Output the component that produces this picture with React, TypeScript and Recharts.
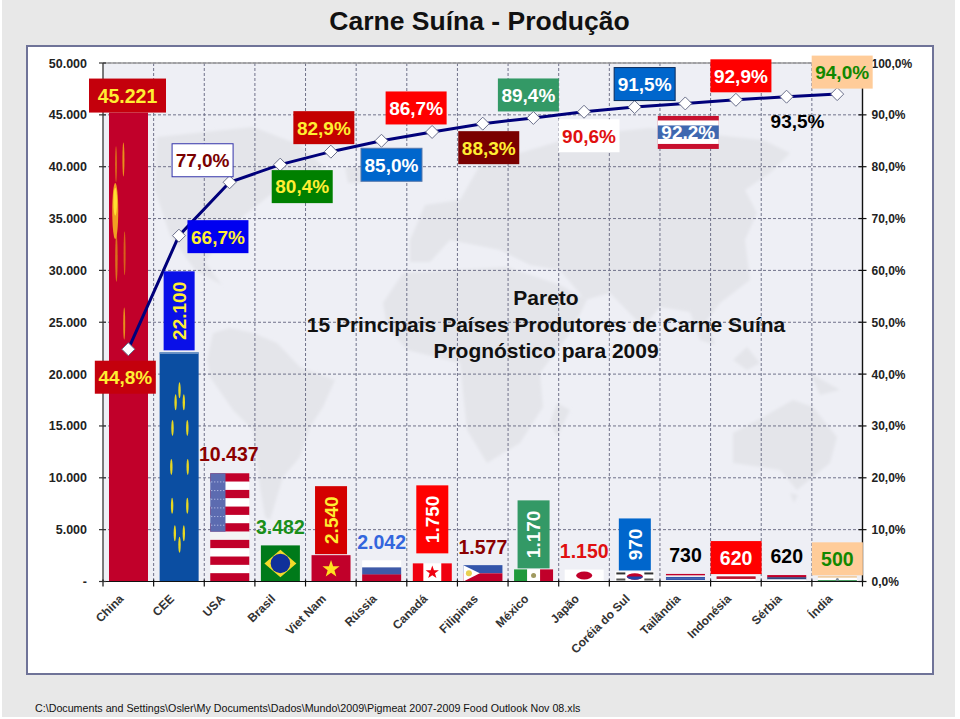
import { Bar, CartesianGrid, ComposedChart, LabelList, Line, ReferenceLine, XAxis, YAxis } from 'recharts'

const countries = ['China', 'CEE', 'USA', 'Brasil', 'Viet Nam', 'Rússia', 'Canadá', 'Filipinas', 'México', 'Japão', 'Coréia do Sul', 'Tailândia', 'Indonésia', 'Sérbia', 'Índia']
const production = [45221, 22100, 10437, 3482, 2540, 2042, 1750, 1577, 1170, 1150, 970, 730, 620, 620, 500]
const cumulative = [44.8, 66.7, 77.0, 80.4, 82.9, 85.0, 86.7, 88.3, 89.4, 90.6, 91.5, 92.2, 92.9, 93.5, 94.0]
const leftTicks = [0, 5000, 10000, 15000, 20000, 25000, 30000, 35000, 40000, 45000, 50000]
const rightTicks = [0, 10, 20, 30, 40, 50, 60, 70, 80, 90, 100]

const FONT = '"Liberation Sans", Arial, sans-serif'
const PLOT = { left: 103, top: 63, right: 862.5, bottom: 581.5 }
const BAND = (PLOT.right - PLOT.left) / countries.length

const chartData = countries.map((name, i) => ({ name, production: production[i], cumulative: cumulative[i] }))

const fmtThousands = (v: number) => (v === 0 ? '-' : v.toLocaleString('de-DE'))
const fmtPct = (v: number) => `${v.toFixed(1).replace('.', ',')}%`

// label look per country, dx/dy measured from the bar's top centre
const barLabels: any[] = [
  { fill: '#C4000C', color: '#FFEE33', w: 77, h: 34, dx: -1, dy: -34 },
  { fill: '#0A10E8', color: '#FFEE33', w: 31, h: 79, dx: 0, dy: -81, vertical: true },
  { color: '#8B0000', dx: -1, dy: -12, size: 19.5 },
  { color: '#1A8F1A', dx: 0, dy: -11, size: 19.5 },
  { fill: '#D40000', color: '#FFEE33', w: 32, h: 68, dx: 0, dy: -69, vertical: true },
  { color: '#3366DD', dx: 0, dy: -11, size: 19.5 },
  { fill: '#FF0000', color: '#FFFFFF', w: 32, h: 68, dx: 0, dy: -78, vertical: true },
  { color: '#8B0000', dx: 0, dy: -11, size: 19.5 },
  { fill: '#339966', color: '#FFFFFF', w: 32, h: 68, dx: 0, dy: -69, vertical: true },
  { color: '#E01010', dx: 0, dy: -12, size: 19.5 },
  { fill: '#0066CC', color: '#FFFFFF', w: 32, h: 52, dx: 0, dy: -53, vertical: true },
  { color: '#000000', dx: 0, dy: -12, size: 19.5 },
  { fill: '#FF0000', color: '#FFFFFF', w: 51, h: 33, dx: 0, dy: -34 },
  { color: '#000000', dx: 0, dy: -12, size: 19.5 },
  { fill: '#FFCC99', color: '#118800', w: 51, h: 33, dx: 0, dy: -34 },
]

// same for the percent labels, dx/dy measured from the line point to the box centre
const pctLabels: any[] = [
  { fill: '#C4000C', color: '#FFEE33', dx: -3, dy: 28 },
  { fill: '#0000F0', color: '#FFEE33', dx: 39, dy: 1 },
  { fill: '#FFFFFF', color: '#7A0000', stroke: '#3333AA', dx: -27, dy: -22 },
  { fill: '#008000', color: '#FFEE33', dx: 22, dy: 22 },
  { fill: '#C40000', color: '#FFEE33', dx: -7, dy: -24 },
  { fill: '#0066CC', color: '#FFFFFF', stroke: '#5577AA', dx: 10, dy: 24 },
  { fill: '#FF0000', color: '#FFFFFF', dx: -16, dy: -24 },
  { fill: '#7A0000', color: '#FFEE33', dx: 6, dy: 24 },
  { fill: '#339966', color: '#FFFFFF', dx: -5, dy: -23 },
  { fill: '#FFFFFF', color: '#E01010', dx: 5, dy: 24 },
  { fill: '#0066CC', color: '#FFFFFF', stroke: '#0A2A5A', dx: 10, dy: -23 },
  { flag: true, color: '#FFFFFF', dx: 3, dy: 29 },
  { fill: '#FF0000', color: '#FFFFFF', dx: 5, dy: -24 },
  { color: '#000000', dx: 11, dy: 24 },
  { fill: '#FFCC99', color: '#118800', dx: 5, dy: -22 },
]

function LeftTick({ x, y, payload }: any) {
  return (
    <g>
      <line x1={x - 4} x2={x + 3} y1={y} y2={y} stroke="#333" strokeWidth={1.2} />
      <text x={x - 16} y={y + 4.5} textAnchor="end" fontFamily={FONT} fontSize={12.5} fontWeight="bold" fill="#222">
        {fmtThousands(payload.value)}
      </text>
    </g>
  )
}

function RightTick({ x, y, payload }: any) {
  return (
    <g>
      <line x1={x - 4} x2={x + 4} y1={y} y2={y} stroke="#111" strokeWidth={1.2} />
      <text x={x + 9} y={y + 4.5} fontFamily={FONT} fontSize={12} fontWeight="bold" fill="#222">
        {fmtPct(payload.value)}
      </text>
    </g>
  )
}

function CountryTick({ x, y, index, payload }: any) {
  const edge = x - BAND / 2
  return (
    <g>
      <line x1={edge} x2={edge} y1={y - 2} y2={y + 5} stroke="#111" strokeWidth={1.2} />
      {index === countries.length - 1 && <line x1={edge + BAND} x2={edge + BAND} y1={y - 2} y2={y + 5} stroke="#111" strokeWidth={1.2} />}
      <text
        x={x - 4}
        y={y + 18}
        textAnchor="end"
        transform={`rotate(-45 ${x - 4} ${y + 18})`}
        fontFamily={FONT}
        fontSize={12}
        fontWeight="bold"
        fill="#333"
      >
        {payload.value}
      </text>
    </g>
  )
}

function Star({ cx, cy, r, fill }: any) {
  const pts: string[] = []
  for (let i = 0; i < 10; i++) {
    const a = -Math.PI / 2 + (i * Math.PI) / 5
    const rr = i % 2 ? r * 0.4 : r
    pts.push(`${cx + rr * Math.cos(a)},${cy + rr * Math.sin(a)}`)
  }
  return <polygon points={pts.join(' ')} fill={fill} />
}

function Flag({ x, y, width: w, height: h, index }: any) {
  const base = <rect x={x} y={y} width={w} height={h} fill="#FFFFFF" />
  const bands = (cols: string[]) =>
    cols.map((c, i) => <rect key={i} x={x} y={y + (h * i) / cols.length} width={w} height={h / cols.length + 0.3} fill={c} />)
  const streak = (cx: number, cy: number, rx: number, ry: number, fill = '#F5C400', k?: any) => (
    <ellipse key={k ?? `${cx}-${cy}`} cx={x + w * cx} cy={y + h * cy} rx={rx} ry={ry} fill={fill} />
  )
  switch (index) {
    case 0:
      return (
        <g>
          <rect x={x} y={y} width={w} height={h} fill="#C1002A" />
          <g filter="url(#glow)">
            {streak(0.18, 0.11, 1, 18, '#D8601A')}
            {streak(0.37, 0.1, 1, 17, '#E8901A')}
            {streak(0.4, 0.3, 1, 22, '#D8601A')}
            {streak(0.19, 0.31, 1.2, 24, '#D8701A')}
            {streak(0.16, 0.21, 3, 28, '#F0A020')}
            {streak(0.16, 0.19, 1.8, 14, '#FFE030')}
            {streak(0.39, 0.45, 1, 16, '#E8901A')}
          </g>
        </g>
      )
    case 1:
      return (
        <g>
          <rect x={x} y={y} width={w} height={h} fill="#0B4EA2" />
          <rect x={x} y={y} width={w} height={1.5} fill="#7A9CCB" />
          <g filter="url(#glow)">
            {[
              [0.51, 0.166], [0.41, 0.218], [0.62, 0.218], [0.33, 0.33], [0.71, 0.33], [0.3, 0.5], [0.72, 0.5], [0.32, 0.67], [0.71, 0.67], [0.39, 0.79], [0.62, 0.79], [0.51, 0.84],
            ].map(([cx, cy], i) => streak(cx, cy, 1.2, 8, '#E8D820', i))}
          </g>
        </g>
      )
    case 2:
      return (
        <g>
          {bands(['#C1002A', '#FFF', '#C1002A', '#FFF', '#C1002A', '#FFF', '#C1002A', '#F4F4F4', '#C1002A', '#FFF', '#C1002A', '#FFF', '#C1002A'])}
          <rect x={x} y={y} width={w * 0.39} height={h * 0.54} fill="#5C6BB0" />
          {[0.08, 0.16, 0.24, 0.32, 0.4, 0.48].map(f => (
            <line key={f} x1={x + 1} x2={x + w * 0.39} y1={y + h * f} y2={y + h * f} stroke="#C8D0F0" strokeWidth={1} strokeDasharray="1 2" />
          ))}
        </g>
      )
    case 3:
      return (
        <g>
          <rect x={x} y={y} width={w} height={h} fill="#007A1A" />
          <polygon points={`${x + w * 0.09},${y + h / 2} ${x + w / 2},${y + h * 0.12} ${x + w * 0.91},${y + h / 2} ${x + w / 2},${y + h * 0.88}`} fill="#F4DC2A" />
          <circle cx={x + w / 2} cy={y + h / 2} r={h * 0.27} fill="#10309A" />
        </g>
      )
    case 4:
      return (
        <g>
          <rect x={x} y={y} width={w} height={h} fill="#C1002A" />
          <Star cx={x + w / 2} cy={y + h * 0.53} r={9} fill="#FFE020" />
        </g>
      )
    case 5:
      return <g>{bands(['#FFFFFF', '#3F5BA8', '#C1002A'])}</g>
    case 6:
      return (
        <g>
          {base}
          <rect x={x} y={y} width={w * 0.27} height={h} fill="#F00010" />
          <rect x={x + w * 0.73} y={y} width={w * 0.27} height={h} fill="#F00010" />
          <Star cx={x + w / 2} cy={y + h * 0.5} r={7} fill="#F00010" />
        </g>
      )
    case 7:
      return (
        <g>
          <rect x={x} y={y} width={w} height={h / 2} fill="#3355AA" />
          <rect x={x} y={y + h / 2} width={w} height={h / 2} fill="#C1002A" />
          <polygon points={`${x},${y} ${x + w * 0.42},${y + h / 2} ${x},${y + h}`} fill="#FFFFFF" />
          <circle cx={x + w * 0.14} cy={y + h / 2} r={3} fill="#E8D050" />
        </g>
      )
    case 8:
      return (
        <g>
          {base}
          <rect x={x} y={y} width={w / 3} height={h} fill="#1F9A3C" />
          <rect x={x + (w * 2) / 3} y={y} width={w / 3} height={h} fill="#C1002A" />
          <circle cx={x + w / 2} cy={y + h / 2} r={2.5} fill="#A09A60" />
        </g>
      )
    case 9:
      return (
        <g>
          {base}
          <ellipse cx={x + w / 2} cy={y + h / 2} rx={8} ry={4} fill="#C1002A" />
        </g>
      )
    case 10:
      return (
        <g>
          {base}
          <ellipse cx={x + w / 2} cy={y + h / 2} rx={8} ry={3.2} fill="#C1002A" />
          <path d={`M${x + w / 2 - 8} ${y + h / 2}a8 3.2 0 0 0 16 0z`} fill="#2244AA" />
          <rect x={x + 1} y={y + 1} width={9} height={2} fill="#333" />
          <rect x={x + w - 10} y={y + 1} width={9} height={2} fill="#333" />
          <rect x={x + 1} y={y + h - 3} width={9} height={2} fill="#555" />
          <rect x={x + w - 10} y={y + h - 3} width={9} height={2} fill="#555" />
        </g>
      )
    case 11:
      return <g>{bands(['#C1002A', '#F4F4F4', '#3355AA', '#3355AA', '#F0F0F0'])}</g>
    case 12:
      return <g>{bands(['#FFFFFF', '#B8102A', '#B8102A', '#FFFFFF', '#FFFFFF'])}</g>
    case 13:
      return <g>{bands(['#C1002A', '#34487F', '#FFFFFF'])}</g>
    default:
      return (
        <g>
          {bands(['#EFBE80', '#FFFFFF', '#FFFFFF', '#1F8A3C'])}
          <circle cx={x + w / 2} cy={y + h * 0.62} r={1.5} fill="#7A8A9A" />
        </g>
      )
  }
}

function Box({ cx, cy, w, h, spec, text, size = 19 }: any) {
  const rot = spec.vertical ? `rotate(-90 ${cx} ${cy})` : undefined
  return (
    <g>
      {spec.flag ? (
        <g>
          <rect x={cx - w / 2} y={cy - h / 2} width={w} height={h} fill="#C8102E" />
          <rect x={cx - w / 2} y={cy - h / 2 + 4.5} width={w} height={23.5} fill="#FFFFFF" />
          <rect x={cx - w / 2} y={cy - h / 2 + 9.5} width={w} height={13.5} fill="#3F68B0" />
        </g>
      ) : (
        spec.fill && <rect x={cx - w / 2} y={cy - h / 2} width={w} height={h} fill={spec.fill} stroke={spec.stroke ?? 'none'} strokeWidth={1} />
      )}
      <text x={cx} y={cy + size * 0.36} transform={rot} textAnchor="middle" fontFamily={FONT} fontWeight="bold" fontSize={size} fill={spec.color}>
        {text}
      </text>
    </g>
  )
}

function BarLabel({ x, y, width, index }: any) {
  const s = barLabels[index]
  const cx = x + width / 2 + s.dx
  if (!s.fill) {
    return (
      <text x={cx} y={y + s.dy} textAnchor="middle" fontFamily={FONT} fontWeight="bold" fontSize={s.size} fill={s.color}>
        {fmtThousands(production[index])}
      </text>
    )
  }
  return <Box cx={cx} cy={y + s.dy + s.h / 2} w={s.w} h={s.h} spec={s} text={fmtThousands(production[index])} size={s.vertical ? 19 : 19.5} />
}

function PctLabel({ x, y, index }: any) {
  const s = pctLabels[index]
  return <Box cx={x + s.dx} cy={y + s.dy} w={61} h={33} spec={s} text={fmtPct(cumulative[index])} size={19} />
}

function Diamond({ cx, cy }: any) {
  const r = 6.5
  return <polygon points={`${cx - r},${cy} ${cx},${cy - r} ${cx + r},${cy} ${cx},${cy + r}`} fill="#FFFFFF" stroke="#6A6F8A" strokeWidth={1} />
}

function gridEdges({ offset }: any) {
  return countries.slice(1).map((_, i) => offset.left + ((i + 1) * offset.width) / countries.length)
}

// rough outline of the map behind the plot, in page pixels
const landShapes = [
  '157,137 253,127 300,145 325,168 300,178 270,195 245,215 225,235 205,262 222,285 195,270 170,235 155,190',
  '345,167 365,167 362,183 348,183',
  '207,360 213,333 230,328 253,333 277,343 300,367 335,380 323,407 310,427 300,457 283,477 270,520 265,517 260,487 253,430 233,410 210,377',
  '383,303 403,273 507,267 560,285 587,300 570,333 540,373 543,407 520,443 487,463 467,430 460,363 407,350 387,327',
  '557,403 570,410 557,437 550,423',
  '410,240 425,205 460,200 480,165 540,147 580,135 650,128 763,140 790,153 770,173 745,190 757,213 745,240 750,280 720,303 707,320 715,345 700,340 690,312 660,307 643,327 610,293 585,300 560,270 530,265 500,250 450,240 430,262 410,262',
  '733,360 747,347 760,363 747,370',
  '810,373 840,390 820,395',
  '733,433 763,417 793,400 813,407 837,437 830,463 797,490 780,470 733,463',
  '790,493 798,495 794,503',
]

export default function App() {
  return (
    <div style={{ position: 'relative', width: 960, height: 719, overflow: 'hidden', background: '#FFFFFF' }}>
      <style>{'body{margin:0}'}</style>
      <div style={{ position: 'absolute', left: 2, top: 0, width: 953, height: 717, background: '#E8E8E8' }} />
      <div style={{ position: 'absolute', left: 26, top: 45, width: 904, height: 626, background: '#FFFFFF', border: '2px solid #6F7398' }} />
      <svg width={960} height={719} style={{ position: 'absolute', left: 0, top: 0 }}>
        <defs>
          <filter id="soft">
            <feGaussianBlur stdDeviation="1.5" />
          </filter>
          <filter id="glow" x="-200%" width="500%">
            <feGaussianBlur stdDeviation="0.7" />
          </filter>
          <clipPath id="plotClip">
            <rect x={PLOT.left} y={PLOT.top} width={PLOT.right - PLOT.left} height={PLOT.bottom - PLOT.top} />
          </clipPath>
        </defs>
        <rect x={PLOT.left} y={PLOT.top} width={PLOT.right - PLOT.left} height={PLOT.bottom - PLOT.top} fill="#EEEFF5" />
        <g clipPath="url(#plotClip)">
          <g filter="url(#soft)">
            {landShapes.map((pts, i) => (
              <polygon key={i} points={pts} fill="#E4E5EA" />
            ))}
          </g>
        </g>
      </svg>
      <div style={{ position: 'absolute', left: 0, top: 0 }}>
        <ComposedChart
          width={960}
          height={719}
          data={chartData}
          margin={{ top: PLOT.top, left: PLOT.left - 60, right: 960 - PLOT.right - 80, bottom: 719 - PLOT.bottom - 100 }}
          style={{ background: 'transparent' }}
        >
          <CartesianGrid
            yAxisId="left"
            stroke="#70728A"
            strokeDasharray="3 2"
            verticalCoordinatesGenerator={gridEdges}
          />
          <ReferenceLine yAxisId="left" y={50000} stroke="#9A9A9A" strokeWidth={1.5} />
          <XAxis dataKey="name" height={100} interval={0} tickSize={0} tickMargin={0} tickLine={false} axisLine={{ stroke: '#111', strokeWidth: 1.2 }} tick={<CountryTick />} />
          <YAxis yAxisId="left" width={60} domain={[0, 50000]} ticks={leftTicks} tickSize={0} tickMargin={0} tickLine={false} axisLine={{ stroke: '#444', strokeWidth: 1.4 }} tick={<LeftTick />} />
          <YAxis yAxisId="right" orientation="right" width={80} domain={[0, 100]} ticks={rightTicks} tickSize={0} tickMargin={0} tickLine={false} axisLine={{ stroke: '#111', strokeWidth: 1.4 }} tick={<RightTick />} />
          <Bar yAxisId="left" dataKey="production" barSize={39} shape={<Flag />} isAnimationActive={false}>
            <LabelList dataKey="production" content={<BarLabel />} />
          </Bar>
          <Line yAxisId="right" dataKey="cumulative" stroke="#00007A" strokeWidth={3} dot={<Diamond />} activeDot={false} isAnimationActive={false}>
            <LabelList dataKey="cumulative" content={<PctLabel />} />
          </Line>
        </ComposedChart>
      </div>
      <svg width={960} height={719} style={{ position: 'absolute', left: 0, top: 0, pointerEvents: 'none' }}>
        <text x={479.5} y={30} textAnchor="middle" fontFamily={FONT} fontWeight="bold" fontSize={26.5} fill="#111">Carne Suína - Produção</text>
        <g fontFamily={FONT} fontWeight="bold" fontSize={21} fill="#111" textAnchor="middle">
          <text x={546} y={305}>Pareto</text>
          <text x={546} y={332}>15 Principais Países Produtores de Carne Suína</text>
          <text x={546} y={358}>Prognóstico para 2009</text>
        </g>
        <text x={35} y={711.5} fontFamily={FONT} fontSize={10.7} fill="#111">{'C:\\Documents and Settings\\Osler\\My Documents\\Dados\\Mundo\\2009\\Pigmeat 2007-2009 Food Outlook Nov 08.xls'}</text>
      </svg>
    </div>
  )
}
